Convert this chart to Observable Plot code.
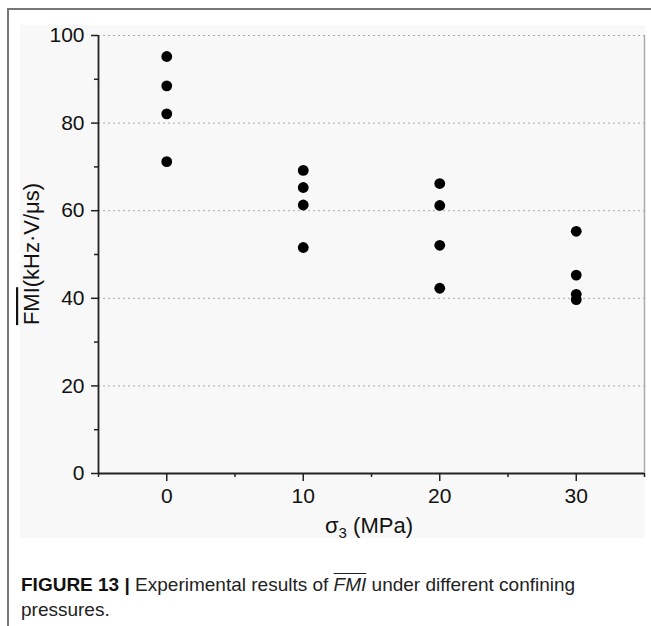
<!DOCTYPE html>
<html>
<head>
<meta charset="utf-8">
<script src="https://cdn.jsdelivr.net/npm/d3@7"></script>
<script src="https://cdn.jsdelivr.net/npm/@observablehq/plot@0.6"></script>
<style>
  html, body { margin: 0; padding: 0; background: #fff; }
  #wrap { position: relative; width: 651px; height: 626px; overflow: hidden; font-family: "Liberation Sans", Arial, sans-serif; }
  #bg { position: absolute; left: 20px; top: 25px; width: 625px; height: 513px; background: #f8f8f8; }
  #chart { position: absolute; left: 0; top: 0; }
  #bt { position: absolute; left: 8px; top: 8px; width: 643px; height: 2px; background: #777; }
  #bl { position: absolute; left: 7px; top: 8px; width: 2px; height: 618px; background: #777; }
  #cap { position: absolute; left: 21px; top: 572px; width: 625px; font-size: 19px; line-height: 25px; color: #222;
         font-family: "Liberation Sans Narrow", "Arial Narrow", "Liberation Sans", sans-serif; }
  #cap b { font-family: "Liberation Sans", Arial, sans-serif; font-weight: bold; color: #111; }
  .ov { text-decoration: overline; font-style: italic; }
</style>
</head>
<body>
<div id="wrap">
  <div id="bg"></div>
  <div id="chart"></div>
  <div id="bt"></div>
  <div id="bl"></div>
  <div id="cap"><b>FIGURE 13 |</b> Experimental results of <span class="ov">FMI</span> under different confining<br>pressures.</div>
</div>
<script>
// Data
const sigma3 = [0, 0, 0, 0, 10, 10, 10, 10, 20, 20, 20, 20, 30, 30, 30, 30];
const fmi = [95.2, 88.5, 82.1, 71.2, 69.2, 65.3, 61.3, 51.6, 66.2, 61.2, 52.1, 42.3, 55.3, 45.3, 40.9, 39.7];
const xTicks = [0, 10, 20, 30];
const xMinorTicks = [-5, 5, 15, 25, 35];
const yTicks = [0, 20, 40, 60, 80, 100];
const yMinorTicks = [10, 30, 50, 70, 90];
const yGrid = [20, 40, 60, 80, 100];
const xDomain = [-5, 35];
const yDomain = [0, 100];

const points = sigma3.map((s, i) => ({s, v: fmi[i]}));

const chart = Plot.plot({
  width: 651,
  height: 545,
  marginLeft: 98,
  marginRight: 7,
  marginTop: 35,
  marginBottom: 72,
  style: {background: "transparent", fontFamily: "'Liberation Sans', Arial, sans-serif", color: "#111", overflow: "visible"},
  x: {domain: xDomain, label: null},
  y: {domain: yDomain, label: null},
  marks: [
    Plot.gridY(yGrid, {stroke: "#a8a8a8", strokeOpacity: 1, strokeDasharray: "2,3", strokeWidth: 1}),
    Plot.ruleX([xDomain[1]], {y1: yDomain[0], y2: yDomain[1], stroke: "#aaa", strokeWidth: 1.5}),
    Plot.axisY(yTicks, {tickSize: 7, tickPadding: 7, fontSize: 21, stroke: "#222", strokeWidth: 1.5, label: null}),
    Plot.axisY(yMinorTicks, {tickSize: 4, text: null, stroke: "#222", strokeWidth: 1.5, label: null}),
    Plot.axisX(xTicks, {tickSize: 8, tickPadding: 7, fontSize: 21, stroke: "#222", strokeWidth: 1.5, label: null}),
    Plot.axisX(xMinorTicks, {tickSize: 4, text: null, stroke: "#222", strokeWidth: 1.5, label: null}),
    Plot.ruleY([yDomain[0]], {stroke: "#222", strokeWidth: 1.8}),
    Plot.ruleX([xDomain[0]], {stroke: "#222", strokeWidth: 1.8}),
    Plot.dot(points, {x: "s", y: "v", r: 5.4, fill: "#000", stroke: null})
  ]
});
document.getElementById("chart").appendChild(chart);

const svg = d3.select(chart);
// Y axis label
const yl = svg.append("text")
  .attr("transform", "translate(31,254) rotate(-90)")
  .attr("text-anchor", "middle")
  .attr("dominant-baseline", "central")
  .attr("font-size", 22)
  .attr("fill", "#111");
yl.append("tspan").attr("style", "text-decoration: overline").text("FMI");
yl.append("tspan").text("(kHz·V/μs)");

// X axis label
const xl = svg.append("text")
  .attr("x", 369).attr("y", 533)
  .attr("text-anchor", "middle")
  .attr("font-size", 22)
  .attr("fill", "#111");
xl.append("tspan").text("σ");
xl.append("tspan").attr("font-size", 15).attr("dy", 5).text("3");
xl.append("tspan").attr("dy", -5).text(" (MPa)");
</script>
</body>
</html>
